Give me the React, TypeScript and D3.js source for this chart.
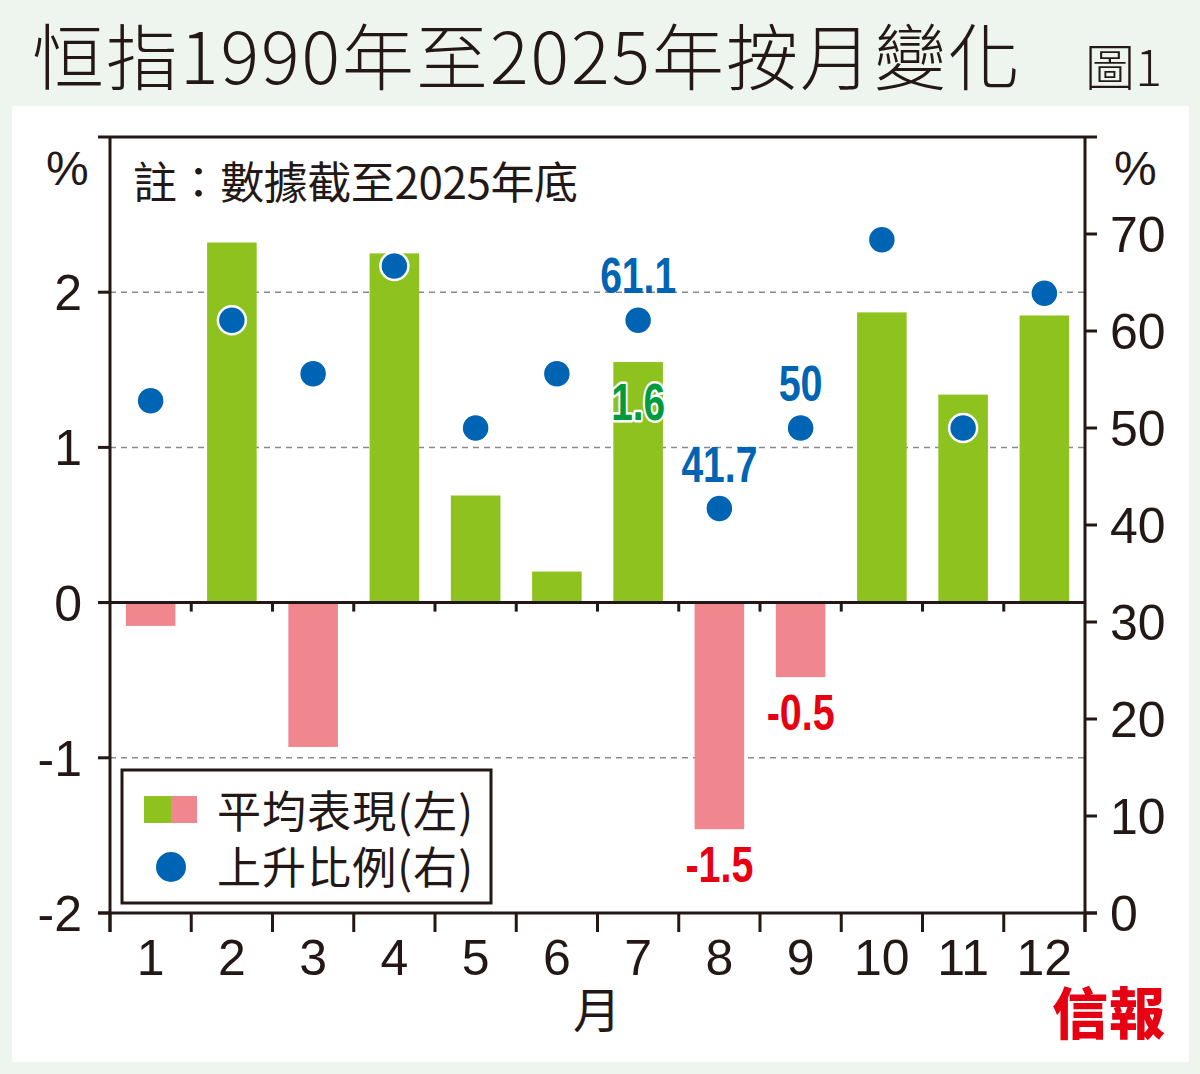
import React from "react";
import * as d3 from "d3";

const months = ["1", "2", "3", "4", "5", "6", "7", "8", "9", "10", "11", "12"];
const avgPerf = [-0.15, 2.32, -0.93, 2.25, 0.69, 0.2, 1.55, -1.46, -0.48, 1.87, 1.34, 1.85];
const upRatio = [52.8, 61.1, 55.6, 66.7, 50, 55.6, 61.1, 41.7, 50, 69.4, 50, 63.9];
const avgLabels = ["", "", "", "", "", "", "1.6", "-1.5", "-0.5", "", "", ""];
const upLabels = ["", "", "", "", "", "", "61.1", "41.7", "50", "", "", ""];
const leftTicks = [-2, -1, 0, 1, 2];
const leftTickLabels = ["-2", "-1", "0", "1", "2"];
const rightTicks = [0, 10, 20, 30, 40, 50, 60, 70];
const gridValues = [-1, 1, 2];

const TITLE = "恒指1990年至2025年按月變化";
const FIG = "圖1";
const NOTE = "註：數據截至2025年底";
const LEG1 = "平均表現(左)";
const LEG2 = "上升比例(右)";
const XTITLE = "月";
const LOGO = "信報";

const GREEN = "#8dc21f";
const PINK = "#f0878f";
const BLUE = "#0064b4";
const RED = "#e60012";
const DGREEN = "#009a3e";
const INK = "#231815";

const cjk = "'Noto Sans CJK TC', 'Noto Sans CJK SC', sans-serif";
const num = "'Liberation Sans', Arial, sans-serif";

export default function App() {
  const L = 110, R = 1085, T = 137, B = 913;
  const x = d3.scaleBand<string>().domain(months).range([L, R]).paddingInner(0.39).paddingOuter(0.195);
  const yL = d3.scaleLinear().domain([-2, 3]).range([B, T]);
  const yR = d3.scaleLinear().domain([0, 80]).range([B, T]);
  const bw = x.bandwidth();
  const step = x.step();
  const boundaries = d3.range(months.length + 1).map((i) => L + i * step);
  const y0 = yL(0);

  const labelWidth = (t: string) => {
    let w = 0;
    for (const c of t) w += c === "." ? 10 : c === "-" ? 14 : 22;
    return w;
  };

  return (
    <svg width={1200} height={1074} style={{ position: "absolute", left: 0, top: 0, display: "block" }}>
      <rect x={0} y={0} width={1200} height={1074} fill="#eef5ef" />
      <rect x={12} y={106} width={1177} height={956} fill="#ffffff" />

      {/* title */}
      <text x={32} y={84} fontFamily={cjk} fontWeight={300} fontSize={72} fill={INK} textLength={988} lengthAdjust="spacing">
        {TITLE}
      </text>
      <text x={1085} y={86} fontFamily={cjk} fontWeight={300} fontSize={50} fill={INK} textLength={77} lengthAdjust="spacing">
        {FIG}
      </text>

      {/* grid */}
      {gridValues.map((g) => (
        <line key={g} x1={L} x2={R} y1={yL(g)} y2={yL(g)} stroke="#8a8a8a" strokeWidth={1.5} strokeDasharray="6,5" />
      ))}

      {/* bars */}
      {avgPerf.map((v, i) => (
        <rect
          key={i}
          x={x(months[i])}
          width={bw}
          y={v >= 0 ? yL(v) : y0}
          height={Math.abs(yL(v) - y0)}
          fill={v >= 0 ? GREEN : PINK}
        />
      ))}

      {/* axes frame */}
      <line x1={98} x2={1097} y1={T} y2={T} stroke={INK} strokeWidth={3} />
      <line x1={98} x2={1097} y1={B} y2={B} stroke={INK} strokeWidth={3} />
      <line x1={98} x2={R} y1={y0} y2={y0} stroke={INK} strokeWidth={3} />
      <line x1={L} x2={L} y1={T} y2={932} stroke={INK} strokeWidth={3} />
      <line x1={R} x2={R} y1={T} y2={932} stroke={INK} strokeWidth={3} />

      {/* left ticks */}
      {leftTicks.map((t, i) => (
        <g key={t}>
          <line x1={98} x2={L} y1={yL(t)} y2={yL(t)} stroke={INK} strokeWidth={3} />
          <text x={82} y={yL(t) + 18} textAnchor="end" fontFamily={num} fontSize={50} fill={INK}>
            {leftTickLabels[i]}
          </text>
        </g>
      ))}
      {/* right ticks */}
      {rightTicks.map((t) => (
        <g key={t}>
          <line x1={R} x2={1097} y1={yR(t)} y2={yR(t)} stroke={INK} strokeWidth={3} />
          <text x={1110} y={yR(t) + 18} textAnchor="start" fontFamily={num} fontSize={50} fill={INK}>
            {String(t)}
          </text>
        </g>
      ))}

      {/* bottom ticks and zero-line ticks */}
      {boundaries.map((bx, i) => (
        <g key={i}>
          <line x1={bx} x2={bx} y1={B} y2={932} stroke={INK} strokeWidth={3} />
          {i > 0 && i < months.length && (
            <line x1={bx} x2={bx} y1={y0} y2={y0 + 9} stroke={INK} strokeWidth={3} />
          )}
        </g>
      ))}
      {months.map((m) => (
        <text key={m} x={(x(m) as number) + bw / 2} y={975} textAnchor="middle" fontFamily={num} fontSize={50} fill={INK}>
          {m}
        </text>
      ))}

      {/* dots */}
      {upRatio.map((v, i) => (
        <circle key={i} cx={(x(months[i]) as number) + bw / 2} cy={yR(v)} r={14} fill={BLUE} stroke="#ffffff" strokeWidth={2.5} />
      ))}

      {/* value labels */}
      {upLabels.map((t, i) =>
        t ? (
          <text
            key={"u" + i}
            x={(x(months[i]) as number) + bw / 2}
            y={yR(upRatio[i]) - 27}
            textAnchor="middle"
            fontFamily={num}
            fontWeight="bold"
            fontSize={50}
            fill={BLUE}
            textLength={labelWidth(t)}
            lengthAdjust="spacingAndGlyphs"
          >
            {t}
          </text>
        ) : null
      )}
      {avgLabels.map((t, i) => {
        if (!t) return null;
        const v = avgPerf[i];
        const cx = (x(months[i]) as number) + bw / 2;
        if (v >= 0) {
          return (
            <text
              key={"a" + i}
              x={cx}
              y={yL(v) + 58}
              textAnchor="middle"
              fontFamily={num}
              fontWeight="bold"
              fontSize={51}
              fill={DGREEN}
              stroke="#ffffff"
              strokeWidth={5}
              paintOrder="stroke"
              strokeLinejoin="round"
              textLength={labelWidth(t)}
              lengthAdjust="spacingAndGlyphs"
            >
              {t}
            </text>
          );
        }
        return (
          <text
            key={"a" + i}
            x={cx}
            y={yL(v) + 53}
            textAnchor="middle"
            fontFamily={num}
            fontWeight="bold"
            fontSize={50}
            fill={RED}
            textLength={labelWidth(t)}
            lengthAdjust="spacingAndGlyphs"
          >
            {t}
          </text>
        );
      })}

      {/* note */}
      <text x={133} y={199} fontFamily={cjk} fontSize={44} fill={INK} textLength={445} lengthAdjust="spacing">
        {NOTE}
      </text>

      {/* % labels */}
      <text x={46} y={185} fontFamily={num} fontSize={48} fill={INK}>%</text>
      <text x={1114} y={185} fontFamily={num} fontSize={48} fill={INK}>%</text>

      {/* legend */}
      <rect x={122} y={770} width={369} height={133} fill="#ffffff" stroke={INK} strokeWidth={3} />
      <rect x={144} y={796} width={27} height={27} fill={GREEN} />
      <rect x={171} y={796} width={26} height={27} fill={PINK} />
      <circle cx={171} cy={867} r={15} fill={BLUE} />
      <text x={217} y={828} fontFamily={cjk} fontSize={44} fill={INK} textLength={256} lengthAdjust="spacing">
        {LEG1}
      </text>
      <text x={217} y={884} fontFamily={cjk} fontSize={44} fill={INK} textLength={256} lengthAdjust="spacing">
        {LEG2}
      </text>

      {/* x title */}
      <text x={597} y={1028} textAnchor="middle" fontFamily={cjk} fontSize={48} fill={INK}>
        {XTITLE}
      </text>

      {/* logo */}
      <text x={1052} y={1034} fontFamily={cjk} fontWeight={900} fontSize={56} fill={RED} textLength={113} lengthAdjust="spacing">
        {LOGO}
      </text>
    </svg>
  );
}
